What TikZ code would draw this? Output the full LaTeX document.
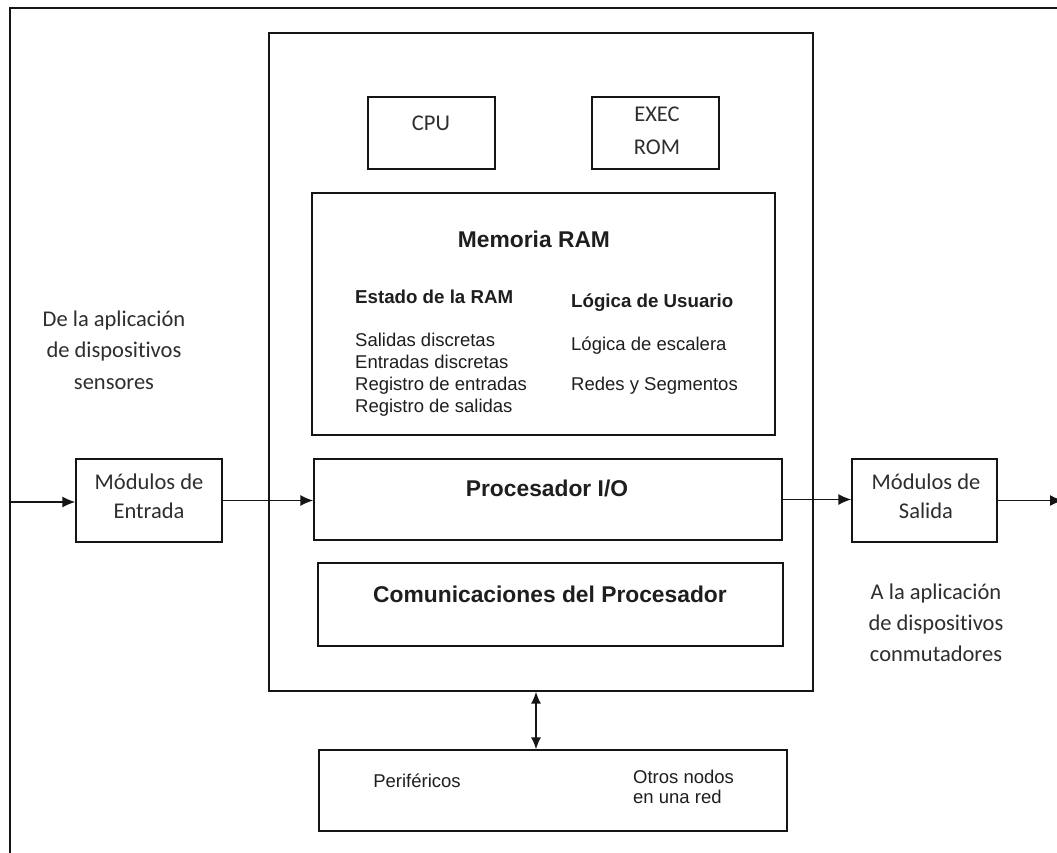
\documentclass[tikz,border=0pt]{standalone}
\usepackage{fontspec}
\setmainfont{Liberation Sans}
\newfontfamily\calfont[Ligatures=NoCommon]{Carlito}
\usetikzlibrary{arrows.meta}
\definecolor{txt}{HTML}{1E1E1E}
\definecolor{caltxt}{HTML}{2E2E2E}
\definecolor{ln}{HTML}{151515}
\begin{document}
\begin{tikzpicture}[x=1pt,y=-1pt,
  box/.style 2 args={draw=ln,line width=1.3pt,inner sep=0pt,minimum width=#1,minimum height=#2},
  frame/.style={draw=ln,line width=1.8pt},
  arr/.style={draw=ln,line width=1.5pt,-{Latex[length=13pt,width=11pt]}},
  darr/.style={draw=ln,line width=1.5pt,{Latex[length=12pt,width=10pt]}-{Latex[length=12pt,width=10pt]}},
  cal/.style={inner sep=0pt,text=caltxt,font=\calfont\fontsize{22.5}{29}\selectfont,align=center},
  rg/.style={inner sep=0pt,text=txt,font=\fontsize{18.5}{22}\selectfont},
  hd/.style={inner sep=0pt,text=txt,font=\bfseries\fontsize{18.7}{22}\selectfont},
  bigb/.style={inner sep=0pt,text=txt,font=\bfseries\fontsize{22.8}{27}\selectfont}
]
\useasboundingbox (0,0) rectangle (1057,853);
\fill[white] (0,0) rectangle (1057,853);

% outer frame
\draw[frame] (1057,8) -- (10,8) -- (10,853);

% main PLC box
\node[box={544pt}{658pt}] (main) at (541,362) {};

% CPU and EXEC ROM
\node[box={127pt}{72pt}] (cpu) at (431.5,133) {};
\node[cal] (cputxt) at (431,123) {CPU};
\node[box={127pt}{72pt}] (rom) at (655.5,133) {};
\node[cal,font=\calfont\fontsize{22.5}{33}\selectfont] (romtxt) at (657,131) {EXEC\\ROM};

% Memoria RAM
\node[box={463pt}{242pt}] (ram) at (543.5,314) {};
\node[bigb,anchor=base] (ramt) at (534,247) {Memoria RAM};
\node[hd,anchor=base west] (est) at (355,303) {Estado de la RAM};
\node[hd,anchor=base west] (logu) at (571,307) {Lógica de Usuario};
\node[rg,anchor=base west] (s1) at (355,346) {Salidas discretas};
\node[rg,anchor=base west] (s2) at (355,368) {Entradas discretas};
\node[rg,anchor=base west] (s3) at (355,390) {Registro de entradas};
\node[rg,anchor=base west] (s4) at (355,412) {Registro de salidas};
\node[rg,anchor=base west] (u1) at (571,350) {Lógica de escalera};
\node[rg,anchor=base west] (u2) at (571,390) {Redes y Segmentos};

% Procesador I/O
\node[box={468pt}{81pt}] (proc) at (548,499.5) {};
\node[bigb,anchor=base] (proct) at (547,496) {Procesador I/O};

% Comunicaciones
\node[box={465pt}{83pt}] (com) at (550.5,604.5) {};
\node[bigb,anchor=base] (comt) at (550,602) {Comunicaciones del Procesador};

% Periféricos
\node[box={468pt}{81pt}] (per) at (553,790.5) {};
\node[rg,anchor=base] (pert) at (417,787) {Periféricos};
\node[rg,anchor=base west] (o1) at (633,783) {Otros nodos};
\node[rg,anchor=base west] (o2) at (633,803) {en una red};

% Modules
\node[box={146pt}{83pt}] (ent) at (149,500.5) {};
\node[cal] (enttxt) at (149,496) {Módulos de\\Entrada};
\node[box={145pt}{83pt}] (sal) at (924.5,500.5) {};
\node[cal] (saltxt) at (926,496) {Módulos de\\Salida};

% side texts
\node[cal,font=\calfont\fontsize{22.5}{31.5}\selectfont] (src) at (114,350) {De la aplicación\\de dispositivos\\sensores};
\node[cal,font=\calfont\fontsize{22.5}{31}\selectfont] (dst) at (936,623) {A la aplicación\\de dispositivos\\conmutadores};

% connectors
\coordinate (inL) at (10,502);
\coordinate (outR) at (1063,500.5);
\coordinate (bx) at (536,0);
\draw[arr] (inL) -- (inL -| ent.west);
\draw[arr] (ent.east) -- (ent.east -| proc.west);
\draw[arr] (proc.east) -- (proc.east -| sal.west);
\draw[arr] (sal.east) -- (outR);
\draw[darr] (main.south -| bx) -- (per.north -| bx);
\end{tikzpicture}
\end{document}
